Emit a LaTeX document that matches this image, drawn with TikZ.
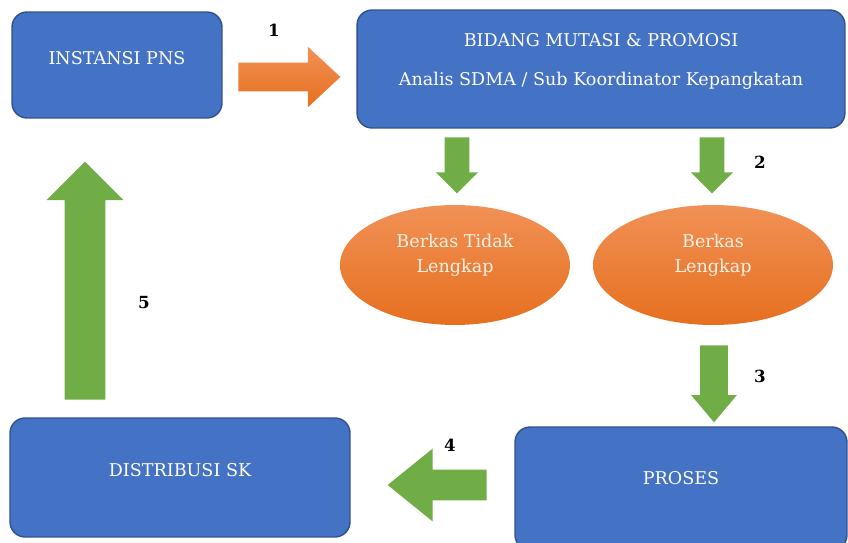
\documentclass[tikz,border=0pt]{standalone}
\usepackage{fontspec}
\setmainfont{DejaVu Serif}
\usetikzlibrary{shapes.geometric,shapes.arrows}
\definecolor{boxblue}{HTML}{4472C4}
\definecolor{boxline}{HTML}{2F528F}
\definecolor{orangetop}{HTML}{F19156}
\definecolor{orangebot}{HTML}{E66F1F}
\definecolor{arrgreen}{HTML}{70AD47}
\begin{document}
\begin{tikzpicture}[x=0.02cm, y=-0.02cm, inner sep=1pt,
    box/.style={draw=boxline, line width=0.8pt, fill=boxblue, rounded corners=0.3cm},
    boxtext/.style={text=white, font=\fontsize{10}{15}\selectfont, align=center},
    berkas/.style={ellipse, top color=orangetop, bottom color=orangebot, draw=none},
    berkastext/.style={text=orange!10, font=\fontsize{10}{14}\selectfont, align=center},
    blockarr/.style={single arrow, draw=none, anchor=tail},
    greenarr/.style={blockarr, fill=arrgreen},
    num/.style={font=\bfseries\fontsize{9.5}{10}\selectfont}]
      \useasboundingbox (0,0) rectangle (848,543);
      % boxes
      \node[box, minimum width=4.2cm, minimum height=2.12cm,
            label={[boxtext, yshift=0.14cm]center:INSTANSI PNS}] (inst) at (117,65) {};
      \node[box, minimum width=9.76cm, minimum height=2.36cm,
            label={[boxtext, yshift=0.15cm]center:BIDANG MUTASI \& PROMOSI\\[0.26cm]Analis SDMA / Sub Koordinator Kepangkatan}] (bid) at (601,69) {};
      \node[box, minimum width=6.8cm, minimum height=2.38cm,
            label={[boxtext, yshift=0.15cm]center:DISTRIBUSI SK}] (dist) at (180,477.5) {};
      \node[box, minimum width=6.64cm, minimum height=2.46cm,
            label={[boxtext, yshift=0.21cm]center:PROSES}] (proses) at (681,488.5) {};
      % ellipses
      \node[berkas, minimum width=4.6cm, minimum height=2.4cm,
            label={[berkastext, yshift=0.2cm]center:Berkas Tidak\\Lengkap}] (tidak) at (455,265) {};
      \node[berkas, minimum width=4.8cm, minimum height=2.4cm,
            label={[berkastext, yshift=0.2cm]center:Berkas\\Lengkap}] (lengkap) at (713,265) {};
      % block arrows
      \node[blockarr, top color=orangetop, bottom color=orangebot, inner sep=0.28cm,
            minimum height=2.04cm, single arrow head extend=0.32cm,
            single arrow tip angle=86] (a1) at (238,77) {};
      \node[greenarr, shape border rotate=270, inner sep=0.24cm, minimum height=1.12cm,
            single arrow head extend=0.17cm] (a2) at (457,137) {};
      \node[greenarr, shape border rotate=270, inner sep=0.24cm, minimum height=1.12cm,
            single arrow head extend=0.17cm] (a2b) at (712,137) {};
      \node[greenarr, shape border rotate=270, inner sep=0.27cm, minimum height=1.54cm,
            single arrow head extend=0.18cm, single arrow tip angle=80] (a3) at (714,345) {};
      \node[greenarr, shape border rotate=180, inner sep=0.3cm, minimum height=1.98cm,
            single arrow head extend=0.42cm, single arrow tip angle=78] (a4) at (487,485) {};
      \node[greenarr, shape border rotate=90, inner sep=0.4cm, minimum height=4.76cm,
            single arrow head extend=0.36cm] (a5) at (85,400) {};
      % step numbers
      \node[num] (n1) at (274,30) {1};
      \node[num] (n2) at (760,162) {2};
      \node[num] (n3) at (760,376) {3};
      \node[num] (n4) at (450,445) {4};
      \node[num] (n5) at (144,303) {5};
   \end{tikzpicture}
\end{document}
